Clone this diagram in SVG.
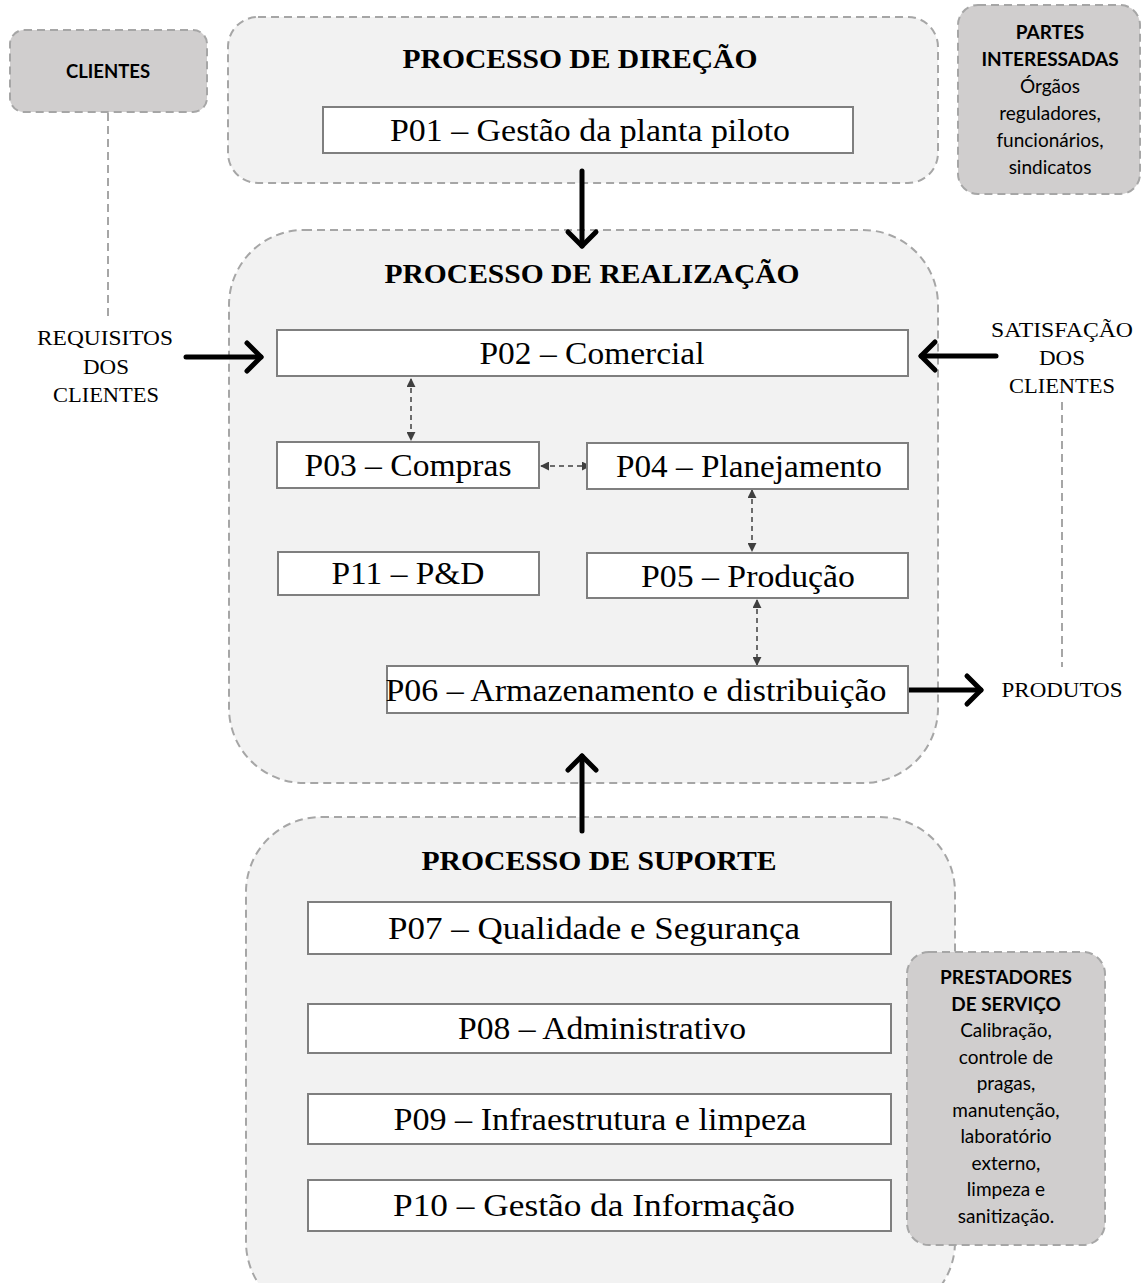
<svg xmlns="http://www.w3.org/2000/svg" width="1143" height="1283" viewBox="0 0 1143 1283">
<defs>
<style>
.grp{fill:#f2f2f2;stroke:#a6a6a6;stroke-width:2;stroke-dasharray:8 5}
.ext{fill:#d0cece;stroke:#a6a6a6;stroke-width:2;stroke-dasharray:8 5}
.proc{fill:#ffffff;stroke:#7f7f7f;stroke-width:2}
.pt{font-family:"Liberation Serif","Times New Roman",serif;font-size:31px;fill:#000;text-anchor:middle}
.tt{font-family:"Liberation Serif","Times New Roman",serif;font-size:27px;font-weight:bold;fill:#000;text-anchor:middle}
.lb{font-family:"Liberation Serif","Times New Roman",serif;font-size:22px;fill:#000;text-anchor:middle}
.cb{font-family:Lato,"Open Sans",sans-serif;font-size:19px;fill:#000;text-anchor:middle}
.b{font-weight:bold}
.thick{stroke:#000;stroke-width:5;fill:none;stroke-linecap:round;stroke-linejoin:round}
.thin{stroke:#404040;stroke-width:1.5;stroke-dasharray:5 4;fill:none}
.gl{stroke:#a6a6a6;stroke-width:2;stroke-dasharray:8 5;fill:none}
</style>
<marker id="tri" viewBox="0 0 10 10" refX="9" refY="5" markerWidth="9" markerHeight="9" markerUnits="userSpaceOnUse" orient="auto-start-reverse">
<path d="M0,0 L10,5 L0,10 z" fill="#404040"/>
</marker>
</defs>

<g id="direcao">
<rect class="grp" x="228" y="17" width="710" height="166" rx="30"/>
<text class="tt" x="580" y="68" textLength="355" lengthAdjust="spacingAndGlyphs">PROCESSO DE DIREÇÃO</text>
</g>
<g id="realizacao">
<rect class="grp" x="229" y="230" width="709" height="553" rx="75"/>
<text class="tt" x="592" y="283" textLength="415" lengthAdjust="spacingAndGlyphs">PROCESSO DE REALIZAÇÃO</text>
</g>
<g id="suporte">
<rect class="grp" x="246" y="817" width="709" height="500" rx="75"/>
<text class="tt" x="599" y="870" textLength="355" lengthAdjust="spacingAndGlyphs">PROCESSO DE SUPORTE</text>
</g>

<g id="connectors">
<line class="gl" x1="108" y1="113" x2="108" y2="316"/>
<line class="gl" x1="1062" y1="402" x2="1062" y2="667"/>
<line class="thick" x1="582" y1="171" x2="582" y2="246"/>
<polyline class="thick" points="568,232 582,246 596,232"/>
<line class="thick" x1="582" y1="831" x2="582" y2="756"/>
<polyline class="thick" points="568,770 582,756 596,770"/>
<line class="thick" x1="186" y1="357" x2="261" y2="357"/>
<polyline class="thick" points="247,343 261,357 247,371"/>
<line class="thick" x1="996" y1="356" x2="921" y2="356"/>
<polyline class="thick" points="935,342 921,356 935,370"/>
<line class="thick" x1="909" y1="690" x2="981" y2="690"/>
<polyline class="thick" points="967,676 981,690 967,704"/>
<line class="thin" x1="411" y1="379" x2="411" y2="440" marker-start="url(#tri)" marker-end="url(#tri)"/>
<line class="thin" x1="541" y1="466" x2="590" y2="466" marker-start="url(#tri)" marker-end="url(#tri)"/>
<line class="thin" x1="752" y1="490" x2="752" y2="551" marker-start="url(#tri)" marker-end="url(#tri)"/>
<line class="thin" x1="757" y1="600" x2="757" y2="665" marker-start="url(#tri)" marker-end="url(#tri)"/>
</g>

<g id="clientes">
<rect class="ext" x="10" y="30" width="197" height="82" rx="14"/>
<text class="cb b" x="108" y="78" style="font-size:18.5px">CLIENTES</text>
</g>
<g id="partes">
<rect class="ext" x="958" y="5" width="182" height="189" rx="20"/>
<text class="cb" x="1050" y="39"><tspan class="b">PARTES</tspan><tspan class="b" x="1050" dy="27">INTERESSADAS</tspan><tspan x="1050" dy="27">Órgãos</tspan><tspan x="1050" dy="27">reguladores,</tspan><tspan x="1050" dy="27">funcionários,</tspan><tspan x="1050" dy="27">sindicatos</tspan></text>
</g>
<g id="prestadores">
<rect class="ext" x="907" y="952" width="198" height="293" rx="22"/>
<text class="cb" x="1006" y="984"><tspan class="b">PRESTADORES</tspan><tspan class="b" x="1006" dy="26.5">DE SERVIÇO</tspan><tspan x="1006" dy="26.5">Calibração,</tspan><tspan x="1006" dy="26.5">controle de</tspan><tspan x="1006" dy="26.5">pragas,</tspan><tspan x="1006" dy="26.5">manutenção,</tspan><tspan x="1006" dy="26.5">laboratório</tspan><tspan x="1006" dy="26.5">externo,</tspan><tspan x="1006" dy="26.5">limpeza e</tspan><tspan x="1006" dy="26.5">sanitização.</tspan></text>
</g>

<g id="requisitos">
<text class="lb" x="105" y="345" textLength="136" lengthAdjust="spacingAndGlyphs">REQUISITOS</text>
<text class="lb" x="106" y="374" textLength="46" lengthAdjust="spacingAndGlyphs">DOS</text>
<text class="lb" x="106" y="402" textLength="106" lengthAdjust="spacingAndGlyphs">CLIENTES</text>
</g>
<g id="satisfacao">
<text class="lb" x="1062" y="337" textLength="142" lengthAdjust="spacingAndGlyphs">SATISFAÇÃO</text>
<text class="lb" x="1062" y="365" textLength="46" lengthAdjust="spacingAndGlyphs">DOS</text>
<text class="lb" x="1062" y="393" textLength="106" lengthAdjust="spacingAndGlyphs">CLIENTES</text>
</g>
<g id="produtos">
<text class="lb" x="1062" y="697" textLength="121" lengthAdjust="spacingAndGlyphs">PRODUTOS</text>
</g>

<g id="p01"><rect class="proc" x="323" y="107" width="530" height="46"/><text class="pt" x="590" y="141" textLength="400" lengthAdjust="spacingAndGlyphs">P01 – Gestão da planta piloto</text></g>
<g id="p02"><rect class="proc" x="277" y="330" width="631" height="46"/><text class="pt" x="592" y="364" textLength="225" lengthAdjust="spacingAndGlyphs">P02 – Comercial</text></g>
<g id="p03"><rect class="proc" x="277" y="442" width="262" height="46"/><text class="pt" x="408" y="476" textLength="207" lengthAdjust="spacingAndGlyphs">P03 – Compras</text></g>
<g id="p04"><rect class="proc" x="587" y="443" width="321" height="46"/><text class="pt" x="749" y="477" textLength="266" lengthAdjust="spacingAndGlyphs">P04 – Planejamento</text></g>
<g id="p11"><rect class="proc" x="278" y="552" width="261" height="43"/><text class="pt" x="408" y="584" textLength="153" lengthAdjust="spacingAndGlyphs">P11 – P&amp;D</text></g>
<g id="p05"><rect class="proc" x="587" y="553" width="321" height="45"/><text class="pt" x="748" y="587" textLength="214" lengthAdjust="spacingAndGlyphs">P05 – Produção</text></g>
<g id="p06"><rect class="proc" x="387" y="666" width="521" height="47"/><text class="pt" x="636" y="701" textLength="501" lengthAdjust="spacingAndGlyphs">P06 – Armazenamento e distribuição</text></g>
<g id="p07"><rect class="proc" x="308" y="902" width="583" height="52"/><text class="pt" x="594" y="939" textLength="412" lengthAdjust="spacingAndGlyphs">P07 – Qualidade e Segurança</text></g>
<g id="p08"><rect class="proc" x="308" y="1004" width="583" height="49"/><text class="pt" x="602" y="1039" textLength="288" lengthAdjust="spacingAndGlyphs">P08 – Administrativo</text></g>
<g id="p09"><rect class="proc" x="308" y="1094" width="583" height="50"/><text class="pt" x="600" y="1130" textLength="413" lengthAdjust="spacingAndGlyphs">P09 – Infraestrutura e limpeza</text></g>
<g id="p10"><rect class="proc" x="308" y="1180" width="583" height="51"/><text class="pt" x="594" y="1216" textLength="402" lengthAdjust="spacingAndGlyphs">P10 – Gestão da Informação</text></g>
</svg>
